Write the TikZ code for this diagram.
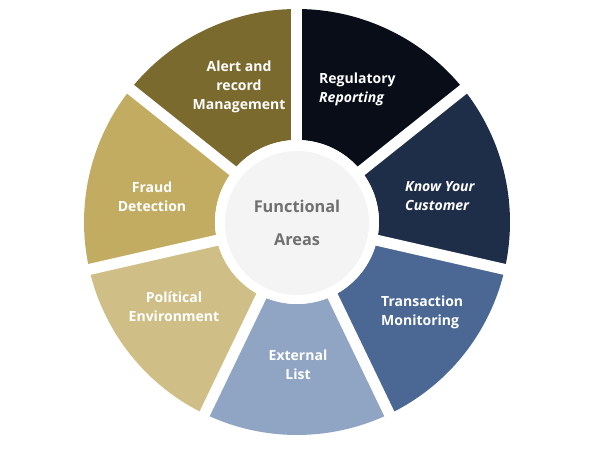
\documentclass[tikz,border=0pt]{standalone}
\usepackage{fontspec}
\setmainfont{Open Sans}
\definecolor{regc}{HTML}{080D18}
\definecolor{kycc}{HTML}{1F2E48}
\definecolor{trac}{HTML}{4A6893}
\definecolor{extc}{HTML}{8FA5C3}
\definecolor{polc}{HTML}{CFBF86}
\definecolor{frac}{HTML}{C2AC62}
\definecolor{alec}{HTML}{7A6A2D}
\definecolor{hubc}{HTML}{F4F4F4}
\definecolor{hubtext}{HTML}{707070}

\begin{document}
\begin{tikzpicture}[x=1pt,y=1pt,
  area/.style={text=white,font=\bfseries\fontsize{14}{19}\selectfont,inner sep=0pt},
  hub/.style={circle,fill=hubc,minimum size=144pt,inner sep=0pt,align=center,
    text=hubtext,font=\bfseries\fontsize{16.3}{33}\selectfont}]
\useasboundingbox (-297,-228) rectangle (303,222);
% ring segments, clockwise from the top
\foreach \a/\c in {90/regc,38.57/kycc,-12.86/trac,-64.29/extc,-115.71/polc,-167.14/frac,141.43/alec}{
  \pgfmathsetmacro\b{\a-51.43}
  \fill[\c] (\a:82) -- (\a:213) arc[start angle=\a,end angle=\b,radius=213]
    -- (\b:82) arc[start angle=\b,end angle=\a,radius=82] -- cycle;
}
% white gaps between segments
\foreach \a in {90,38.57,-12.86,-64.29,-115.71,-167.14,141.43}{
  \draw[white,line width=11pt] (0,0) -- (\a:220);
}
\fill[white] (0,0) circle[radius=82];
\node[hub] (hub) at (0,-1) {Functional\\Areas};
% labels
\node[area,align=left,anchor=west] (reg) at (22,132.5) {Regulatory\\\itshape Reporting};
\node[area,align=left,anchor=west] (kyc) at (108,25.5) {\itshape Know Your\\\itshape Customer};
\node[area,align=left,anchor=west] (tra) at (84,-90) {Transaction\\Monitoring};
\node[area,align=center] (ext) at (1,-142.5) {External\\List};
\node[area,align=center] (pol) at (-123,-84.5) {Polítical\\Environment};
\node[area,align=center] (fra) at (-145,25.5) {Fraud\\Detection};
\node[area,align=center] (ale) at (-58,135) {Alert and\\record\\Management};
\end{tikzpicture}
\end{document}
